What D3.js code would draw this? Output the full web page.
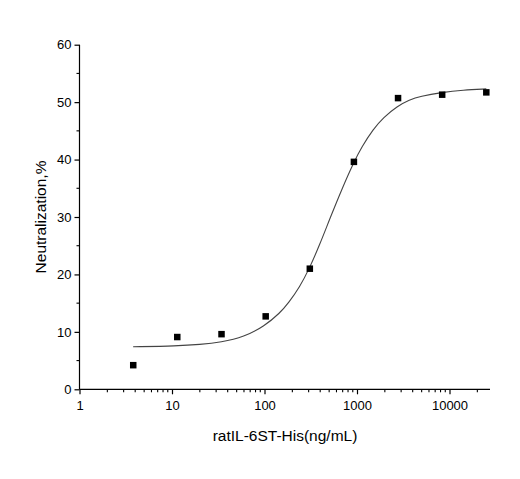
<!DOCTYPE html>
<html><head><meta charset="utf-8">
<script src="https://cdn.jsdelivr.net/npm/d3@7"></script>
<style>
html,body{margin:0;padding:0;background:#fff;}
svg{display:block;font-family:"Liberation Sans",Arial,sans-serif;}
</style></head>
<body>
<svg id="chart" width="520" height="479"></svg>
<script>
// Measured data points (concentration ng/mL, neutralization %)
const concentrations = [3.81, 11.4, 34.3, 103, 309, 926, 2778, 8333, 25000];
const neutralization = [4.2, 9.1, 9.6, 12.7, 21.0, 39.6, 50.7, 51.3, 51.7];

// Fitted curve samples
const fitX = [3.8, 11.4, 20, 34, 60, 100, 147, 181, 240, 305, 398, 511, 700, 921, 1125, 1500, 1924, 2727, 3700, 4790, 8300, 14000, 25000];
const fitY = [7.4, 7.55, 7.8, 8.2, 9.1, 11.0, 13.3, 15.0, 17.8, 21.0, 25.3, 29.8, 35.2, 39.5, 42.2, 45.3, 47.3, 49.3, 50.4, 51.0, 51.7, 52.1, 52.3];

const xTickValues = [1, 10, 100, 1000, 10000];
const xTickLabels = ["1", "10", "100", "1000", "10000"];
const yTickValues = [0, 10, 20, 30, 40, 50, 60];

const svg = d3.select("#chart");
const mLeft = 79.5, mRight = 490, mTop = 44.7, mBottom = 389.3;

const x = d3.scaleLog().domain([1, Math.pow(10, (490 - 79.5) / 92.5)]).range([mLeft, mRight]);
const y = d3.scaleLinear().domain([0, 60]).range([mBottom, mTop]);

// minor ticks x
const minorX = [];
for (let d = 1; d <= 10000; d *= 10) {
  for (let k = 2; k <= 9; k++) { const v = d * k; if (v <= x.domain()[1]) minorX.push(v); }
}
const minorY = [5, 15, 25, 35, 45, 55];

const g = svg.append("g");

// x axis
const xAxis = d3.axisBottom(x).tickValues(xTickValues).tickFormat((d, i) => xTickLabels[i]).tickSize(5).tickPadding(6);
const xg = g.append("g").attr("transform", `translate(0,${mBottom})`).call(xAxis);
xg.select(".domain").attr("d", `M${mLeft},0H${mRight}`);
xg.selectAll("text").attr("font-size", 13).attr("fill", "#000").attr("font-family", "Liberation Sans, Arial, sans-serif");
xg.selectAll("line,path").attr("stroke", "#000").attr("stroke-width", 1.2);
g.append("g").attr("transform", `translate(0,${mBottom})`)
  .selectAll("line").data(minorX).join("line")
  .attr("x1", d => x(d)).attr("x2", d => x(d)).attr("y1", 0).attr("y2", 3)
  .attr("stroke", "#000").attr("stroke-width", 1.1);

// y axis
const yAxis = d3.axisLeft(y).tickValues(yTickValues).tickSize(5).tickPadding(3);
const yg = g.append("g").attr("transform", `translate(${mLeft},0)`).call(yAxis);
yg.select(".domain").attr("d", `M0,${mTop}V${mBottom}`);
yg.selectAll("text").attr("font-size", 13).attr("fill", "#000").attr("font-family", "Liberation Sans, Arial, sans-serif");
yg.selectAll("line,path").attr("stroke", "#000").attr("stroke-width", 1.2);
g.append("g").attr("transform", `translate(${mLeft},0)`)
  .selectAll("line").data(minorY).join("line")
  .attr("y1", d => y(d)).attr("y2", d => y(d)).attr("x1", 0).attr("x2", -3)
  .attr("stroke", "#000").attr("stroke-width", 1.1);

// fitted curve
const line = d3.line().x((d, i) => x(fitX[i])).y((d, i) => y(fitY[i])).curve(d3.curveBasis);
g.append("path").attr("d", line(fitX)).attr("fill", "none").attr("stroke", "#444").attr("stroke-width", 1.1);

// points
const sz = 6.5;
g.selectAll("rect.pt").data(concentrations).join("rect").attr("class", "pt")
  .attr("x", d => x(d) - sz / 2).attr("y", (d, i) => y(neutralization[i]) - sz / 2)
  .attr("width", sz).attr("height", sz).attr("fill", "#000");

// axis titles
svg.append("text").attr("x", 285).attr("y", 441).attr("text-anchor", "middle")
  .attr("font-size", 15.5).attr("fill", "#000").text("ratIL-6ST-His(ng/mL)");
svg.append("text").attr("transform", "translate(46,217) rotate(-90)").attr("text-anchor", "middle")
  .attr("font-size", 15.5).attr("fill", "#000").text("Neutralization,%");
</script>
</body></html>
